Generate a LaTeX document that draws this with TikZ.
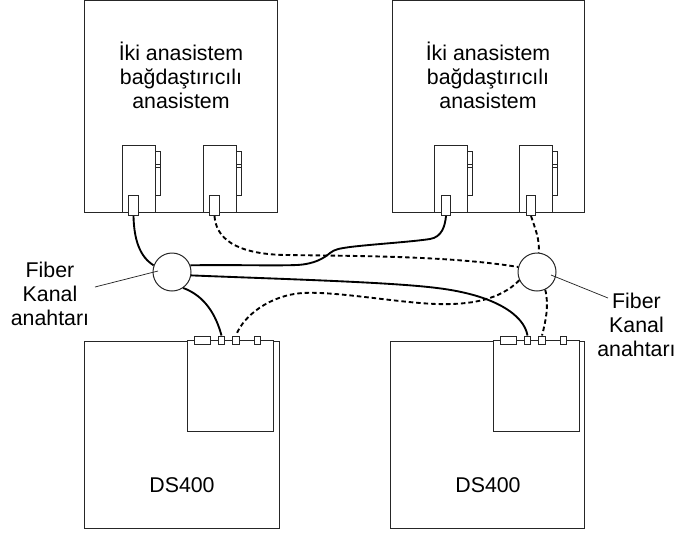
\documentclass[tikz,border=0pt]{standalone}
\usepackage{fontspec}
\setmainfont{Liberation Sans}
\tikzset{
  boxline/.style={draw=black!85, line width=0.75pt},
  cable/.style={black, line width=1.4pt},
  dashcable/.style={black, line width=1.4pt, dash pattern=on 3.4pt off 2.2pt},
  leader/.style={black!85, line width=0.55pt},
  caption/.style={align=center, font=\fontsize{16}{18}\selectfont, inner sep=0pt},
  switchnode/.style={circle, boxline, fill=white, minimum size=28.5pt, inner sep=0pt},
  portnode/.style={rectangle, boxline, fill=white, inner sep=0pt, minimum width=6.8pt, minimum height=15pt},
  slotnode/.style={rectangle, boxline, fill=white, inner sep=0pt, minimum width=5pt, minimum height=6pt}
}
\begin{document}
\begin{tikzpicture}[x=0.75pt, y=-0.75pt]
  \useasboundingbox (0,0) rectangle (678,533);

  % Host systems
  \draw[boxline] (84,0.5) rectangle (277,212);
  \draw[boxline] (392,0.5) rectangle (584.5,212);
  \node[caption] (hostA) at (181,75) {İki anasistem\\bağdaştırıcılı\\anasistem};
  \node[caption] (hostB) at (488,75) {İki anasistem\\bağdaştırıcılı\\anasistem};

  % Adapter cards in the hosts
  \foreach \cardx/\portname in {122/pa, 203/pb, 434.5/pc, 519.5/pd} {
    \draw[boxline] (\cardx,212) -- (\cardx,145) -- ++(33,0) -- (\cardx+33,212);
    \draw[boxline] (\cardx+33,151) rectangle (\cardx+38,195);
    \draw[boxline] (\cardx+33,164) -- (\cardx+38,164);
    \draw[boxline] (\cardx+33,167) -- (\cardx+38,167);
    \node[portnode, anchor=north] (\portname) at (\cardx+11.5,195) {};
  }

  % Storage units
  \draw[boxline] (187,341) -- (84,341) -- (84,528) -- (279,528) -- (279,341) -- (273,341);
  \draw[boxline] (493,341) -- (390,341) -- (390,528) -- (584,528) -- (584,341) -- (579,341);
  \draw[boxline] (187,340) rectangle (273,431);
  \draw[boxline] (493,340) rectangle (579,431);
  \node[caption] (dsA) at (182,485) {DS400};
  \node[caption] (dsB) at (488,485) {DS400};

  % Slots on the storage cards
  \node[slotnode, minimum width=12pt] (sa) at (202,340) {};
  \node[slotnode] (sb) at (221.5,340) {};
  \node[slotnode] (sc) at (236,340) {};
  \node[slotnode] (sd) at (257.5,340) {};
  \node[slotnode, minimum width=12pt] (se) at (508,340) {};
  \node[slotnode] (sf) at (527.5,340) {};
  \node[slotnode] (sg) at (542,340) {};
  \node[slotnode] (sh) at (563.5,340) {};

  % Switches
  \node[switchnode] (swA) at (172,272) {};
  \node[switchnode] (swB) at (537,272) {};

  % Solid cables
  \draw[cable] (pa.south) .. controls (134,240) and (140,257) .. (swA.160);
  \draw[cable] (swA.20) .. controls (230,264.5) and (270,266) .. (297,265)
    .. controls (315,264) and (324,258) .. (330,253)
    .. controls (335,249) and (340,248.5) .. (350,247)
    .. controls (375,244) and (410,242) .. (430,239)
    .. controls (442,237) and (445,226) .. (pc.south);
  \draw[cable] (swA.350) .. controls (280,279) and (390,282) .. (437,288)
    .. controls (495,295) and (524,315) .. (sf.north);
  \draw[cable] (swA.305) .. controls (205,296) and (216,315) .. (sb.north);

  % Dashed cables
  \draw[dashcable] (pb.south) .. controls (216,238) and (235,254) .. (285,255)
    .. controls (360,256) and (450,256) .. (swB.165);
  \draw[dashcable] (pd.south) .. controls (535,228) and (540,240) .. (swB.85);
  \draw[dashcable] (swB.205) .. controls (500,300) and (470,305) .. (437,304)
    .. controls (400,303) and (335,291) .. (303,293)
    .. controls (270,295) and (243,316) .. (sc.north);
  \draw[dashcable] (swB.295) .. controls (549,305) and (546,320) .. (sg.north);

  % Switch captions and their leader lines
  \node[caption] (labelA) at (50,294) {Fiber\\Kanal\\anahtarı};
  \node[caption] (labelB) at (636.5,325) {Fiber\\Kanal\\anahtarı};
  \coordinate (leadA) at (95,287);
  \coordinate (leadAend) at (158,271);
  \coordinate (leadB) at (608,298);
  \coordinate (leadBend) at (551,275);
  \draw[leader] (leadA) -- (leadAend);
  \draw[leader] (leadB) -- (leadBend);
\end{tikzpicture}
\end{document}
